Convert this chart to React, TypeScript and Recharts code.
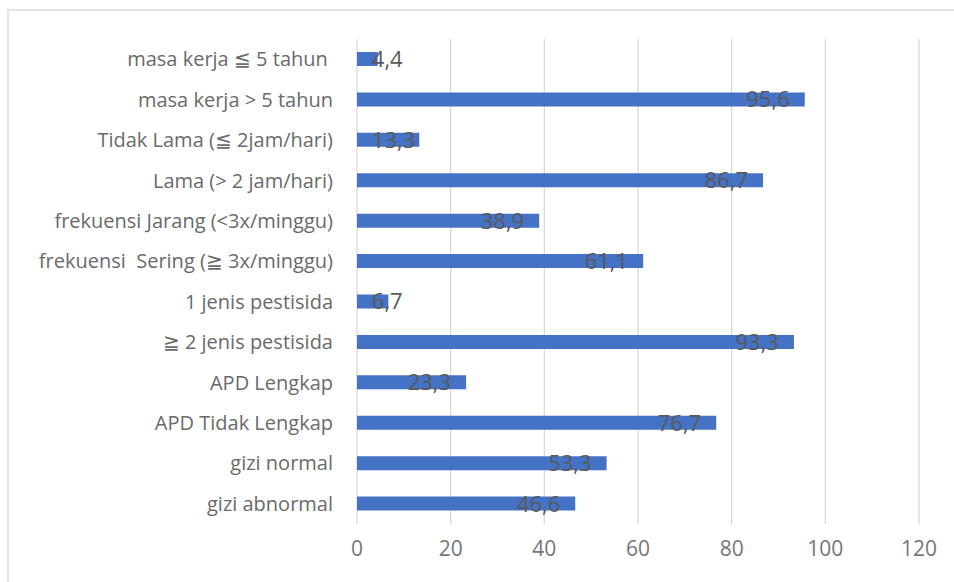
import { BarChart, Bar, XAxis, YAxis, CartesianGrid, LabelList } from 'recharts'

const categories = [
  'masa kerja ≦ 5 tahun\u00a0',
  'masa kerja > 5 tahun',
  'Tidak Lama (≦ 2jam/hari)',
  'Lama (> 2 jam/hari)',
  'frekuensi Jarang (<3x/minggu)',
  'frekuensi\u00a0 Sering (≧ 3x/minggu)',
  '1 jenis pestisida',
  '≧ 2 jenis pestisida',
  'APD Lengkap',
  'APD Tidak Lengkap',
  'gizi normal',
  'gizi abnormal',
]
const values = [4.4, 95.6, 13.3, 86.7, 38.9, 61.1, 6.7, 93.3, 23.3, 76.7, 53.3, 46.6]
const xTicks = [0, 20, 40, 60, 80, 100, 120]

const data = categories.map((name, i) => ({ name, value: values[i] }))

const font = '"Open Sans", sans-serif'

const fmt = (v: number) => v.toFixed(1).replace('.', ',')

function ValueLabel(props: any) {
  const { x, y, width, height, value } = props
  const text = fmt(value)
  const w = (text.length - 1) * 12.6 + 5.5
  const right = Math.max(x + width - 15, x + 15 + w)
  return (
    <text
      x={right}
      y={y + height / 2}
      dy="0.36em"
      textAnchor="end"
      fill="#595959"
      fontSize={22}
      fontFamily={font}
    >
      {text}
    </text>
  )
}

export default function App() {
  return (
    <div style={{ position: 'fixed', left: 0, top: 0, width: 954, height: 582, overflow: 'hidden', background: '#fff' }}>
      <div
        style={{
          position: 'absolute',
          left: 7,
          top: 9,
          width: 990,
          height: 600,
          border: '2px solid #e4e4e4',
          boxSizing: 'border-box',
        }}
      />
      <div style={{ position: 'absolute', left: 8, top: 8 }}>
        <BarChart
          layout="vertical"
          width={946}
          height={574}
          data={data}
          margin={{ top: 31, right: 35, left: 0, bottom: 0 }}
        >
          <CartesianGrid horizontal={false} stroke="#d9d9d9" strokeWidth={1.3} />
          <XAxis
            type="number"
            domain={[0, 120]}
            ticks={xTicks}
            height={58}
            axisLine={false}
            tickLine={false}
            tickSize={0}
            tickMargin={17}
            tick={{ fill: '#767676', fontSize: 21, fontFamily: font }}
          />
          <YAxis
            type="category"
            dataKey="name"
            width={349}
            axisLine={false}
            tickLine={false}
            tickSize={0}
            tickMargin={24}
            interval={0}
            tick={{ fill: '#6a6a6a', fontSize: 20, fontFamily: font }}
          />
          <Bar dataKey="value" fill="#4472C4" barSize={14} isAnimationActive={false}>
            <LabelList dataKey="value" content={ValueLabel} />
          </Bar>
        </BarChart>
      </div>
    </div>
  )
}
